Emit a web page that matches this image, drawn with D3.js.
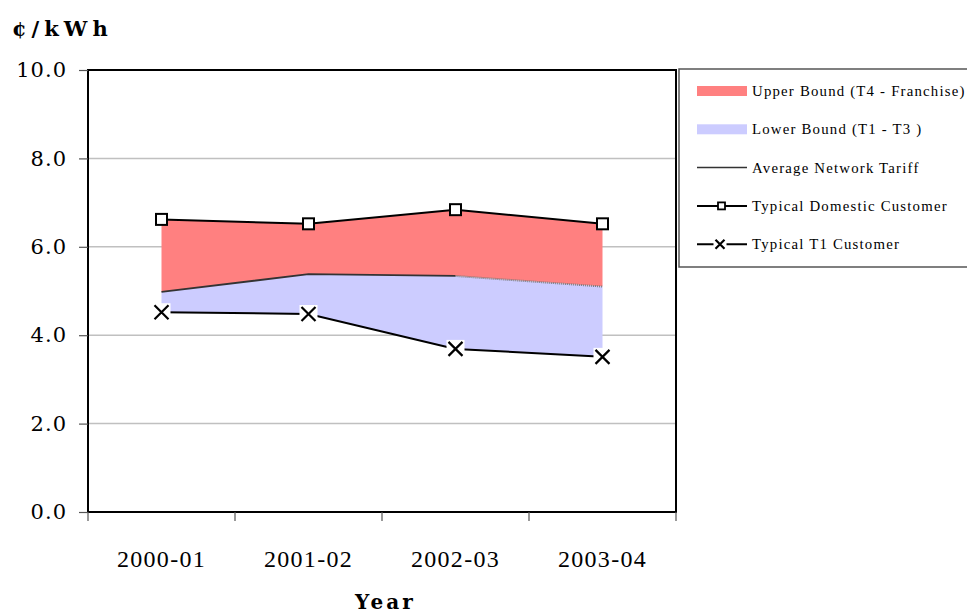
<!DOCTYPE html>
<html><head><meta charset="utf-8">
<script src="https://cdn.jsdelivr.net/npm/d3@7"></script>
<style>body{margin:0;background:#fff}svg{display:block}</style>
</head><body><svg id="c" width="967" height="615"></svg>
<script>
const categories = ["2000-01","2001-02","2002-03","2003-04"];
const upperBound = [6.62, 6.52, 6.84, 6.52];      // Typical Domestic Customer
const avgTariff  = [4.98, 5.38, 5.34, 5.10];      // Average Network Tariff
const t1Customer = [4.52, 4.48, 3.69, 3.51];      // Typical T1 Customer
const yTicks = [0, 2, 4, 6, 8, 10];
const legendLabels = ["Upper Bound (T4 - Franchise)","Lower Bound (T1 - T3 )","Average Network Tariff","Typical Domestic Customer","Typical T1 Customer"];

const svg = d3.select("#c");
const L = 88, R = 676, T = 70, B = 512;
const x = d3.scaleBand().domain(categories).range([L, R]).padding(0);
const y = d3.scaleLinear().domain([0, 10]).range([B, T]);
const cx = c => x(c) + x.bandwidth() / 2;
const rows = categories.map((c, i) => ({c, up: upperBound[i], avg: avgTariff[i], t1: t1Customer[i]}));

// gridlines
svg.append("g").selectAll("line").data(yTicks.filter(v => v > 0 && v < 10)).join("line")
  .attr("x1", L).attr("x2", R).attr("y1", d => y(d)).attr("y2", d => y(d))
  .attr("stroke", "#c0c0c0").attr("stroke-width", 1.5);

// areas
svg.append("path").datum(rows)
  .attr("d", d3.area().x(d => cx(d.c)).y0(d => y(d.avg)).y1(d => y(d.up)))
  .attr("fill", "#FF8080");
svg.append("path").datum(rows)
  .attr("d", d3.area().x(d => cx(d.c)).y0(d => y(d.t1)).y1(d => y(d.avg)))
  .attr("fill", "#CCCCFF");

// average line (solid for first three, dotted last segment)
svg.append("path").datum(rows.slice(0, 3))
  .attr("d", d3.line().x(d => cx(d.c)).y(d => y(d.avg)))
  .attr("fill", "none").attr("stroke", "#333").attr("stroke-width", 1.8);
svg.append("path").datum(rows.slice(2))
  .attr("d", d3.line().x(d => cx(d.c)).y(d => y(d.avg)))
  .attr("fill", "none").attr("stroke", "#777").attr("stroke-width", 2).attr("stroke-dasharray", "1,1");

// domestic line
svg.append("path").datum(rows)
  .attr("d", d3.line().x(d => cx(d.c)).y(d => y(d.up)))
  .attr("fill", "none").attr("stroke", "#000").attr("stroke-width", 2);
// T1 line
svg.append("path").datum(rows)
  .attr("d", d3.line().x(d => cx(d.c)).y(d => y(d.t1)))
  .attr("fill", "none").attr("stroke", "#000").attr("stroke-width", 2);

// markers
svg.append("g").selectAll("rect").data(rows).join("rect")
  .attr("x", d => cx(d.c) - 5.5).attr("y", d => y(d.up) - 5.5).attr("width", 11).attr("height", 11)
  .attr("fill", "#fff").attr("stroke", "#000").attr("stroke-width", 2);
function xMarker(g, px, py, s) {
  g.append("rect").attr("x", px - s - 2).attr("y", py - s - 2).attr("width", 2*s + 4).attr("height", 2*s + 4).attr("fill", "#fff");
  g.append("path").attr("d", `M${px-s},${py-s}L${px+s},${py+s}M${px-s},${py+s}L${px+s},${py-s}`)
    .attr("stroke", "#000").attr("stroke-width", 2.2);
}
const gx = svg.append("g");
rows.forEach(d => xMarker(gx, cx(d.c), y(d.t1), 7));

// frame
svg.append("rect").attr("x", L).attr("y", T).attr("width", R - L).attr("height", B - T)
  .attr("fill", "none").attr("stroke", "#000").attr("stroke-width", 2);

// y axis
const ya = svg.append("g").attr("transform", `translate(${L},0)`)
  .call(d3.axisLeft(y).tickValues(yTicks).tickFormat(d3.format(".1f")).tickSize(9).tickPadding(12));
ya.select(".domain").remove();
ya.selectAll(".tick line").attr("stroke", "#555").attr("stroke-width", 1.2);
ya.selectAll("text").attr("font-family", "DejaVu Serif").attr("font-size", 21).attr("fill", "#000").attr("letter-spacing", 1);

// x axis
const xa = svg.append("g").attr("transform", `translate(0,${B})`)
  .call(d3.axisBottom(x).tickSize(0).tickPadding(38));
xa.select(".domain").remove();
xa.selectAll(".tick line").remove();
xa.selectAll("text").attr("font-family", "Liberation Serif").attr("font-size", 24).attr("fill", "#000").attr("letter-spacing", 1.3);
svg.append("g").selectAll("line").data(d3.range(categories.length + 1)).join("line")
  .attr("x1", i => L + i * x.bandwidth()).attr("x2", i => L + i * x.bandwidth())
  .attr("y1", B).attr("y2", B + 9).attr("stroke", "#555").attr("stroke-width", 1.2);

// titles
svg.append("text").attr("x", 12).attr("y", 36).text("¢/kWh")
  .attr("font-family", "DejaVu Serif").attr("font-weight", "bold").attr("font-size", 21).attr("letter-spacing", 5);
svg.append("text").attr("x", 355).attr("y", 609).text("Year")
  .attr("font-family", "DejaVu Serif").attr("font-weight", "bold").attr("font-size", 20).attr("letter-spacing", 3);

// legend
const lg = svg.append("g");
lg.append("rect").attr("x", 679).attr("y", 69).attr("width", 300).attr("height", 198)
  .attr("fill", "#fff").attr("stroke", "#555").attr("stroke-width", 1.5);
const ly = i => 91 + i * 38.3;
lg.append("rect").attr("x", 697).attr("y", ly(0) - 5).attr("width", 50).attr("height", 10).attr("fill", "#FF8080");
lg.append("rect").attr("x", 697).attr("y", ly(1) - 5).attr("width", 50).attr("height", 10).attr("fill", "#CCCCFF");
lg.append("line").attr("x1", 697).attr("x2", 747).attr("y1", ly(2)).attr("y2", ly(2)).attr("stroke", "#333").attr("stroke-width", 1.5);
lg.append("line").attr("x1", 697).attr("x2", 747).attr("y1", ly(3)).attr("y2", ly(3)).attr("stroke", "#000").attr("stroke-width", 2);
lg.append("rect").attr("x", 718).attr("y", ly(3) - 3.5).attr("width", 7).attr("height", 7).attr("fill", "#fff").attr("stroke", "#000").attr("stroke-width", 1.8);
lg.append("line").attr("x1", 697).attr("x2", 747).attr("y1", ly(4)).attr("y2", ly(4)).attr("stroke", "#000").attr("stroke-width", 2);
xMarker(lg, 720, ly(4), 4.5);
lg.selectAll("text.lt").data(legendLabels).join("text").attr("class", "lt")
  .attr("x", 752).attr("y", (d, i) => ly(i) + 5).text(d => d)
  .attr("font-family", "Liberation Serif").attr("font-size", 14.8).attr("letter-spacing", 1.2).attr("fill", "#000");
</script></body></html>
